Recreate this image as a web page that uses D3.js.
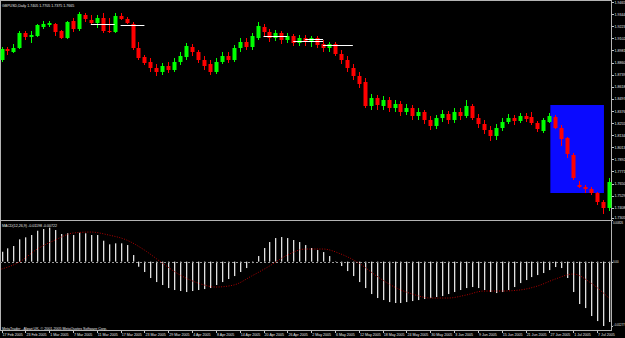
<!DOCTYPE html>
<html>
<head>
<meta charset="utf-8">
<script src="https://cdn.jsdelivr.net/npm/d3@7"></script>
<style>
  body { margin: 0; background: #000; }
  svg { display: block; font-family: "Liberation Sans", Arial, sans-serif; }
  .axis path { display: none; }
  .axis line { stroke: #c8c8c8; shape-rendering: crispEdges; }
  .axis text { fill: #e6e6e6; font-size: 3.6px; }
</style>
</head>
<body>
<script>
// GBPUSD daily, 17 Feb 2005 - 11 Jul 2005 (one entry per bar)
const opens = [1.8885,1.8995,1.8965,1.9005,1.9155,1.9115,1.9125,1.9215,1.9235,1.9245,
  1.9175,1.9105,1.9275,1.9195,1.9335,1.9285,1.9255,1.9305,1.9175,1.9165,
  1.9325,1.9295,1.9245,1.9005,1.8915,1.8865,1.8805,1.8765,1.8825,1.8785,
  1.8865,1.8915,1.9015,1.8965,1.8885,1.8845,1.8765,1.8865,1.8925,1.8885,
  1.9005,1.9065,1.9015,1.9105,1.9215,1.9165,1.9105,1.9155,1.9085,1.9125,
  1.9055,1.9105,1.9065,1.9105,1.9045,1.9005,1.9045,1.8945,1.8885,1.8805,
  1.8725,1.8665,1.8425,1.8505,1.8425,1.8485,1.8405,1.8445,1.8365,1.8405,
  1.8325,1.8365,1.8285,1.8225,1.8305,1.8345,1.8285,1.8365,1.8325,1.8425,
  1.8305,1.8245,1.8185,1.8125,1.8205,1.8265,1.8305,1.8275,1.8325,1.8315,
  1.8255,1.8175,1.8265,1.8315,1.8205,1.8105,1.7935,1.7635,1.7615,1.7595,
  1.7555,1.7465,1.7405];
const highs = [1.9015,1.9015,1.9045,1.9175,1.9175,1.9175,1.9245,1.9275,1.9275,1.9255,
  1.9185,1.9275,1.9305,1.9365,1.9355,1.9335,1.9335,1.9355,1.9305,1.9355,
  1.9355,1.9315,1.9265,1.9065,1.8935,1.8905,1.8845,1.8855,1.8865,1.8905,
  1.8965,1.9055,1.9045,1.8985,1.8925,1.8885,1.8905,1.8965,1.8965,1.9035,
  1.9105,1.9105,1.9155,1.9265,1.9245,1.9195,1.9185,1.9175,1.9155,1.9145,
  1.9135,1.9135,1.9125,1.9125,1.9085,1.9065,1.9065,1.8985,1.8925,1.8845,
  1.8765,1.8705,1.8545,1.8535,1.8525,1.8515,1.8485,1.8475,1.8445,1.8435,
  1.8405,1.8385,1.8325,1.8335,1.8385,1.8375,1.8405,1.8405,1.8485,1.8445,
  1.8345,1.8285,1.8225,1.8245,1.8305,1.8345,1.8335,1.8355,1.8355,1.8365,
  1.8275,1.8305,1.8355,1.8335,1.8235,1.8115,1.7955,1.7675,1.7635,1.7615,
  1.7565,1.7485,1.7705];
const lows = [1.8865,1.8935,1.8955,1.8995,1.9085,1.9055,1.9115,1.9195,1.9215,1.9125,
  1.9095,1.9095,1.9165,1.9175,1.9265,1.9235,1.9205,1.9155,1.9155,1.9155,
  1.9285,1.9245,1.8985,1.8885,1.8835,1.8765,1.8725,1.8735,1.8755,1.8765,
  1.8835,1.8885,1.8925,1.8855,1.8785,1.8735,1.8745,1.8845,1.8855,1.8865,
  1.8965,1.8985,1.8985,1.9085,1.9125,1.9065,1.9075,1.9045,1.9055,1.9025,
  1.9025,1.9025,1.9015,1.9005,1.8965,1.8965,1.8925,1.8845,1.8765,1.8685,
  1.8605,1.8405,1.8385,1.8385,1.8385,1.8365,1.8365,1.8325,1.8335,1.8285,
  1.8285,1.8245,1.8185,1.8195,1.8265,1.8245,1.8255,1.8285,1.8305,1.8285,
  1.8205,1.8145,1.8075,1.8085,1.8175,1.8245,1.8235,1.8255,1.8265,1.8235,
  1.8165,1.8155,1.8255,1.8195,1.8025,1.7905,1.7685,1.7605,1.7555,1.7535,
  1.7435,1.7345,1.7375];
const closes = [1.8995,1.8975,1.9005,1.9155,1.9115,1.9135,1.9235,1.9245,1.9255,1.9165,
  1.9105,1.9265,1.9195,1.9345,1.9295,1.9255,1.9305,1.9175,1.9165,1.9325,
  1.9295,1.9255,1.9005,1.8905,1.8855,1.8805,1.8765,1.8825,1.8785,1.8865,
  1.8925,1.9025,1.8965,1.8885,1.8825,1.8765,1.8865,1.8925,1.8885,1.9005,
  1.9065,1.9015,1.9125,1.9225,1.9165,1.9105,1.9155,1.9085,1.9125,1.9055,
  1.9105,1.9065,1.9105,1.9035,1.9005,1.9045,1.8945,1.8885,1.8805,1.8725,
  1.8645,1.8425,1.8505,1.8435,1.8485,1.8405,1.8445,1.8365,1.8405,1.8325,
  1.8365,1.8285,1.8225,1.8305,1.8345,1.8285,1.8365,1.8325,1.8425,1.8305,
  1.8245,1.8185,1.8125,1.8205,1.8265,1.8305,1.8275,1.8325,1.8295,1.8255,
  1.8195,1.8285,1.8325,1.8205,1.8095,1.7945,1.7705,1.7615,1.7595,1.7555,
  1.7465,1.7405,1.7665];

// MACD(12,26,9) histogram, one value per bar
const macd = [0.00196,0.00264,0.00310,0.00442,0.00482,0.00528,0.00613,0.00647,0.00673,0.00627,
  0.00548,0.00562,0.00528,0.00573,0.00562,0.00528,0.00528,0.00415,0.00343,0.00363,
  0.00363,0.00329,0.00131,-0.00101,-0.00206,-0.00325,-0.00405,-0.00464,-0.00524,-0.00563,
  -0.00583,-0.00603,-0.00583,-0.00563,-0.00544,-0.00524,-0.00464,-0.00405,-0.00345,-0.00286,
  -0.00206,-0.00127,-0.00028,0.00111,0.00270,0.00389,0.00468,0.00488,0.00468,0.00429,
  0.00389,0.00329,0.00270,0.00230,0.00190,0.00111,-0.00008,-0.00087,-0.00187,-0.00286,
  -0.00405,-0.00524,-0.00643,-0.00722,-0.00762,-0.00802,-0.00821,-0.00821,-0.00802,-0.00782,
  -0.00762,-0.00742,-0.00722,-0.00702,-0.00683,-0.00643,-0.00603,-0.00563,-0.00524,-0.00504,
  -0.00524,-0.00563,-0.00603,-0.00623,-0.00603,-0.00563,-0.00504,-0.00425,-0.00365,-0.00306,
  -0.00266,-0.00226,-0.00167,-0.00107,-0.00127,-0.00325,-0.00603,-0.00841,-0.00921,-0.01079,
  -0.01179,-0.01277,-0.01198];

// signal line read at every third bar
const signalBars = [0,3,6,9,12,15,18,21,24,27,30,33,36,39,42,45,48,51,54,57,60,63,66,69,72,75,78,81,84,87,90,93,96,99,102];
const signalVals = [-0.00147,-0.00008,0.00250,0.00429,0.00567,0.00587,0.00528,0.00429,0.00230,-0.00028,
  -0.00266,-0.00425,-0.00504,-0.00464,-0.00286,-0.00087,0.00131,0.00250,0.00250,0.00151,
  -0.00028,-0.00286,-0.00504,-0.00643,-0.00722,-0.00722,-0.00663,-0.00583,-0.00583,-0.00563,
  -0.00484,-0.00345,-0.00246,-0.00425,-0.00722];

const priceTicks = [1.9465,1.9344,1.9223,1.9102,1.8981,1.8860,1.8739,1.8618,1.8497,1.8376,
  1.8255,1.8134,1.8013,1.7892,1.7771,1.7650,1.7529,1.7408,1.7305];
const macdTicks = [0.00826, 0, -0.01277];
const dateLabels = ["17 Feb 2005","23 Feb 2005","1 Mar 2005","7 Mar 2005","11 Mar 2005","17 Mar 2005",
  "23 Mar 2005","29 Mar 2005","4 Apr 2005","8 Apr 2005","14 Apr 2005","20 Apr 2005","26 Apr 2005",
  "2 May 2005","6 May 2005","12 May 2005","18 May 2005","24 May 2005","30 May 2005","3 Jun 2005",
  "9 Jun 2005","15 Jun 2005","21 Jun 2005","27 Jun 2005","1 Jul 2005","7 Jul 2005"];

// drawn objects: horizontal levels and the blue box
const levelFrom = [15, 20, 44, 49, 51, 54];
const levelTo = [19, 24, 48, 54, 54, 59];
const levelPrice = [1.9245, 1.9232, 1.9125, 1.9075, 1.9095, 1.9035];
const boxBars = [92, 101];
const boxPrices = [1.8435, 1.7555];

const W = 625, H = 338;
const axisX = 611.5;

const svg = d3.select('body').append('svg')
  .attr('width', W).attr('height', H);

svg.append('rect').attr('width', W).attr('height', H).attr('fill', '#000');

const x = d3.scaleLinear().domain([0, 102]).range([1.5, 608.9]);
const y = d3.scaleLinear().domain([1.7305, 1.9465]).range([218, 2]);
const m = d3.scaleLinear().domain([-0.01277, 0.00826]).range([326, 220]);

// frame and separators
const frame = svg.append('g').attr('stroke', '#b4b4b4').attr('shape-rendering', 'crispEdges');
frame.append('line').attr('x1', 0).attr('x2', axisX).attr('y1', 0.5).attr('y2', 0.5);
frame.append('line').attr('x1', 0.5).attr('x2', 0.5).attr('y1', 0).attr('y2', 330.5);
frame.append('line').attr('x1', 0).attr('x2', axisX).attr('y1', 220.5).attr('y2', 220.5);
frame.append('line').attr('x1', 0).attr('x2', axisX).attr('y1', 330.5).attr('y2', 330.5);
frame.append('line').attr('x1', axisX).attr('x2', axisX).attr('y1', 0).attr('y2', 331);

// blue box behind candles
svg.append('rect')
  .attr('x', x(boxBars[0]) + 1)
  .attr('y', y(boxPrices[0]))
  .attr('width', x(boxBars[1]) - x(boxBars[0]))
  .attr('height', y(boxPrices[1]) - y(boxPrices[0]))
  .attr('fill', '#0a0aff');

// candles
const bars = d3.range(opens.length);
const candle = svg.append('g').selectAll('g')
  .data(bars)
  .enter().append('g')
  .attr('fill', i => closes[i] >= opens[i] ? '#00ff00' : '#ff0000')
  .attr('stroke', i => closes[i] >= opens[i] ? '#00ff00' : '#ff0000');

candle.append('line')
  .attr('x1', i => Math.round(x(i)) + 0.5)
  .attr('x2', i => Math.round(x(i)) + 0.5)
  .attr('y1', i => y(highs[i]))
  .attr('y2', i => y(lows[i]))
  .attr('stroke-width', 1);

candle.append('rect')
  .attr('stroke', 'none')
  .attr('x', i => Math.round(x(i)) - 1.5)
  .attr('width', 4)
  .attr('y', i => y(Math.max(opens[i], closes[i])))
  .attr('height', i => Math.max(1, Math.abs(y(opens[i]) - y(closes[i]))));

// horizontal levels
svg.append('g').selectAll('line')
  .data(levelPrice)
  .enter().append('line')
  .attr('x1', (d, i) => x(levelFrom[i]))
  .attr('x2', (d, i) => x(levelTo[i]))
  .attr('y1', d => Math.round(y(d)) + 0.5)
  .attr('y2', d => Math.round(y(d)) + 0.5)
  .attr('stroke', '#ffffff')
  .attr('stroke-width', 1);

// MACD histogram
svg.append('g').selectAll('rect')
  .data(macd)
  .enter().append('rect')
  .attr('x', (d, i) => Math.round(x(i)))
  .attr('width', 1.3)
  .attr('y', d => Math.min(m(d), m(0)))
  .attr('height', d => Math.abs(m(d) - m(0)))
  .attr('fill', '#e0e0e0');

// zero line
svg.append('line')
  .attr('x1', 0).attr('x2', axisX)
  .attr('y1', Math.round(m(0)) + 0.5).attr('y2', Math.round(m(0)) + 0.5)
  .attr('stroke', '#9a9a9a')
  .attr('stroke-dasharray', '2,2');

// signal line
svg.append('path')
  .datum(signalVals)
  .attr('fill', 'none')
  .attr('stroke', '#b00000')
  .attr('stroke-width', 1)
  .attr('stroke-dasharray', '1,1.5')
  .attr('d', d3.line()
    .x((d, i) => x(signalBars[i]))
    .y(d => m(d))
    .curve(d3.curveMonotoneX));

// price axis
const priceAxis = svg.append('g').attr('class', 'axis')
  .attr('transform', `translate(${axisX},0)`)
  .call(d3.axisRight(y).tickValues(priceTicks).tickSize(2).tickSizeOuter(0).tickPadding(1)
    .tickFormat(d3.format('.4f')));
priceAxis.selectAll('text').filter(d => d === 1.7305).attr('dy', '0.05em');

// MACD axis
const macdAxis = svg.append('g').attr('class', 'axis')
  .attr('transform', `translate(${axisX},0)`)
  .call(d3.axisRight(m).tickValues(macdTicks).tickSize(1.5).tickSizeOuter(0).tickPadding(0)
    .tickFormat(d => d === 0 ? '0.00' : d3.format('.5f')(d)));
macdAxis.selectAll('text')
  .style('font-size', '2.8px')
  .attr('dy', d => d > 0 ? '1.3em' : d < 0 ? '-0.1em' : '0.32em');

// date axis
const dateAxis = svg.append('g').attr('class', 'axis')
  .attr('transform', 'translate(0,330.5)')
  .call(d3.axisBottom(x).tickValues(d3.range(0, 101, 4)).tickSize(2).tickSizeOuter(0).tickPadding(0.5)
    .tickFormat((d, i) => dateLabels[i]));
dateAxis.selectAll('text').attr('text-anchor', 'start').attr('dx', '0.6');

// texts
svg.append('text').attr('x', 2).attr('y', 6.5)
  .attr('fill', '#e6e6e6').attr('font-size', 3.6)
  .text('GBPUSD,Daily  1.7405 1.7705 1.7375 1.7665');
svg.append('text').attr('x', 2).attr('y', 227)
  .attr('fill', '#e6e6e6').attr('font-size', 3.6)
  .text('MACD(12,26,9) -0.01198 -0.00722');
svg.append('text').attr('x', 2).attr('y', 329.5)
  .attr('fill', '#e6e6e6').attr('font-size', 3.6)
  .text('MetaTrader - Alpari UK, \u00a9 2001-2005 MetaQuotes Software Corp.');
</script>
</body>
</html>
